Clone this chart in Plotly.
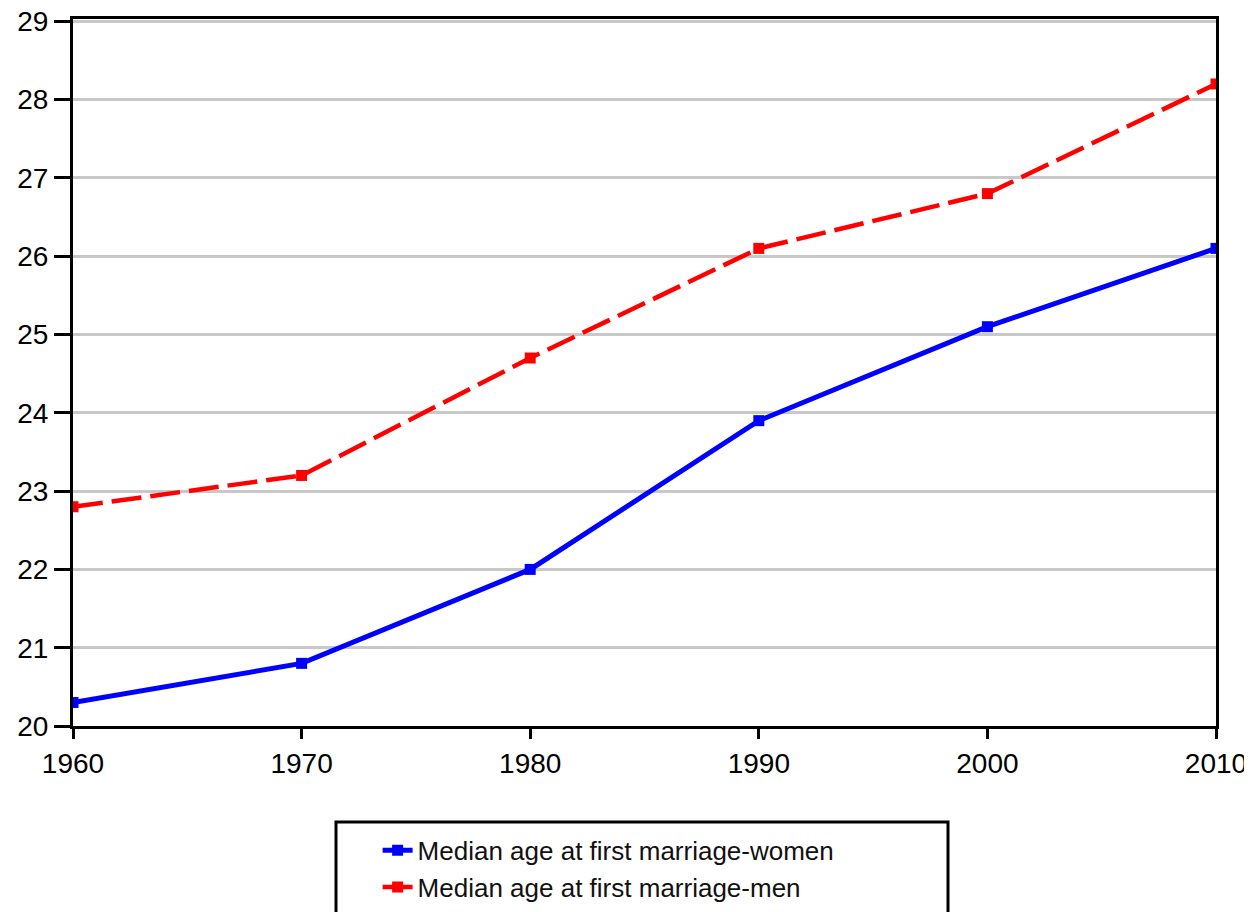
import plotly.graph_objects as go

years = [1960, 1970, 1980, 1990, 2000, 2010]
women = [20.3, 20.8, 22.0, 23.9, 25.1, 26.1]
men = [22.8, 23.2, 24.7, 26.1, 26.8, 28.2]
y_ticks = list(range(20, 30))

FONT = "Liberation Sans"

fig = go.Figure()
fig.add_trace(go.Scatter(
    x=years, y=women, mode="lines+markers",
    name="Median age at first marriage-women",
    line=dict(color="#0000ff", width=5),
    marker=dict(symbol="square", size=11, color="#0000ff"),
))
fig.add_trace(go.Scatter(
    x=years, y=men, mode="lines+markers",
    name="Median age at first marriage-men",
    line=dict(color="#ff0000", width=4.5, dash="30px,9px"),
    marker=dict(symbol="square", size=11, color="#ff0000"),
))

# legend frame (wider than the auto legend box, as in the reference)
fig.add_shape(
    type="rect", xref="paper", yref="paper",
    x0=(328 - 65) / 1143, x1=(940 - 65) / 1143,
    y0=-(930 - 718) / 707, y1=-(814 - 718) / 707,
    line=dict(color="black", width=3), fillcolor="rgba(0,0,0,0)",
    layer="above",
)

fig.update_layout(
    width=1252, height=912,
    paper_bgcolor="white", plot_bgcolor="white",
    margin=dict(l=65, r=44, t=11, b=194, autoexpand=False),
    font=dict(family=FONT, size=28, color="black"),
    showlegend=True,
    legend=dict(
        x=0.2665, y=-0.1427, xanchor="left", yanchor="top",
        borderwidth=0, bgcolor="rgba(0,0,0,0)",
        font=dict(family=FONT, size=26, color="#111111"),
        tracegroupgap=0,
    ),
)
fig.update_xaxes(
    range=[1960, 2010], tickmode="array", tickvals=years,
    ticktext=[str(y) for y in years],
    showgrid=False, zeroline=False,
    showline=True, linecolor="black", linewidth=3, mirror=True,
    ticks="outside", ticklen=10, tickwidth=3, tickcolor="black",
    ticklabelstandoff=0,
    tickfont=dict(family=FONT, size=28, color="black"),
)
fig.update_yaxes(
    range=[20, 29.03], tickmode="array", tickvals=y_ticks,
    ticktext=[str(v) for v in y_ticks],
    showgrid=True, gridcolor="#c8c8c8", gridwidth=3, zeroline=False,
    showline=True, linecolor="black", linewidth=3, mirror=True,
    ticks="outside", ticklen=16, tickwidth=3, tickcolor="black",
    ticklabeloverflow="allow",
    tickfont=dict(family=FONT, size=28, color="black"),
)

fig.write_html("out.html")
